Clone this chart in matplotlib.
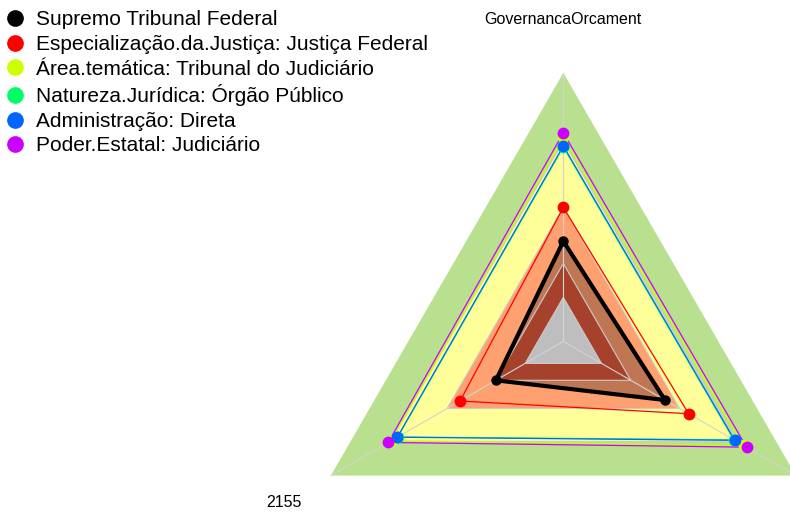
import numpy as np
import matplotlib
matplotlib.use('Agg')
import matplotlib.pyplot as plt
from matplotlib.lines import Line2D

plt.rcParams['font.family'] = ['Liberation Sans', 'DejaVu Sans']

# axes of the radar (the third label sits off the right edge of the canvas)
categories = ['GovernancaOrcament', '2155', '']

# series, values scaled 0..1 on each axis
series_names = ['Supremo Tribunal Federal',
                'Especialização.da.Justiça: Justiça Federal',
                'Área.temática: Tribunal do Judiciário',
                'Natureza.Jurídica: Órgão Público',
                'Administração: Direta',
                'Poder.Estatal: Judiciário']
series_colors = ['#000000', '#FF0000', '#CCFF00', '#00FF66', '#0066FF', '#CC00FF']
stf = [0.373, 0.290, 0.437]
especializacao = [0.499, 0.444, 0.539]
area_tematica = [0.760, 0.740, 0.775]
natureza = [0.724, 0.712, 0.733]
administracao = [0.728, 0.714, 0.737]
poder = [0.777, 0.753, 0.788]
series_values = [stf, especializacao, area_tematica, natureza, administracao, poder]

# background bands (outer level, colour)
band_levels = [1.0, 0.745, 0.5, 0.29, 0.164]
band_colors = ['#B9E08E', '#FFFF99', '#FFA070', '#A6422C', '#BEBEBE']

theta = np.deg2rad([90, 210, 330])


def xy(vals):
    r = np.asarray(vals, dtype=float)
    return r * np.cos(theta), r * np.sin(theta)


fig = plt.figure(figsize=(7.9, 5.14), dpi=100)
ax = fig.add_axes([0, 0, 1, 1])
ax.set_xlim(-2.098, 0.844)
ax.set_ylim(-0.643, 1.2715)
ax.set_aspect('equal')
ax.axis('off')

# outer bands first
for lvl, col in zip(band_levels[:3], band_colors[:3]):
    x, y = xy([lvl] * 3)
    ax.fill(x, y, color=col, lw=0, zorder=1)

# translucent fill of the first series
x, y = xy(stf)
ax.fill(x, y, color='black', alpha=0.25, lw=0, zorder=2)

# inner bands on top of that fill
for lvl, col in zip(band_levels[3:], band_colors[3:]):
    x, y = xy([lvl] * 3)
    ax.fill(x, y, color=col, lw=0, zorder=3)

# grid
for lvl in band_levels[1:]:
    x, y = xy([lvl] * 3)
    ax.fill(x, y, facecolor='none', edgecolor='#CBCBCB', lw=0.8, zorder=4)
for t in theta:
    ax.plot([0, np.cos(t)], [0, np.sin(t)], color='#D3D3D3', lw=0.8, zorder=4)

# series
for name, col, vals in zip(series_names, series_colors, series_values):
    x, y = xy(vals)
    if col == '#000000':
        ax.fill(x, y, facecolor='none', edgecolor=col, lw=3.0, zorder=6)
        ax.plot(x, y, 'o', color=col, ms=6.5, zorder=7)
    else:
        ax.fill(x, y, facecolor='none', edgecolor=col, lw=0.9, zorder=5)
        ax.plot(x, y, 'o', color=col, ms=7.5, zorder=7)

# axis labels
for lab, t in zip(categories, theta):
    ax.text(1.2 * np.cos(t), 1.2 * np.sin(t), lab, ha='center', va='center',
            fontsize=11.5, color='#000000')

handles = [Line2D([], [], marker='o', ls='none', color=c, ms=11) for c in series_colors]
ax.legend(handles, series_names, loc='upper left', bbox_to_anchor=(0.004, 0.986),
          frameon=False, fontsize=15, handlelength=0.8, handletextpad=0.6,
          labelspacing=0.27, borderpad=0.15, borderaxespad=0.0)

fig.savefig('out.png', dpi=100)
